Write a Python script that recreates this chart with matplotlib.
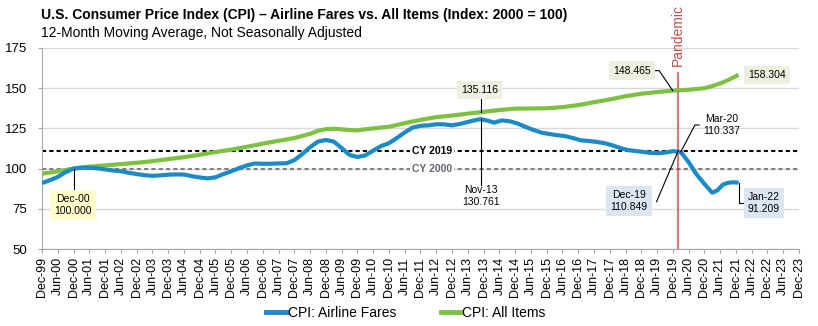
import matplotlib
matplotlib.use("Agg")
import matplotlib.pyplot as plt
from matplotlib.lines import Line2D
import pandas as pd

plt.rcParams['font.family'] = ['Liberation Sans', 'DejaVu Sans']

# CPI: Airline Fares, 12-month moving average (2000 = 100)
fares_dates = [
    "1999-12", "2000-03", "2000-06", "2000-09", "2000-12", "2001-03", "2001-06", "2001-09",
    "2001-12", "2002-03", "2002-06", "2002-09", "2002-12", "2003-03", "2003-06", "2003-09",
    "2003-12", "2004-03", "2004-06", "2004-09", "2004-12", "2005-03", "2005-06", "2005-09",
    "2005-12", "2006-03", "2006-06", "2006-09", "2006-12", "2007-03", "2007-06", "2007-09",
    "2007-12", "2008-03", "2008-06", "2008-09", "2008-12", "2009-03", "2009-06", "2009-09",
    "2009-12", "2010-03", "2010-06", "2010-09", "2010-12", "2011-03", "2011-06", "2011-09",
    "2011-12", "2012-03", "2012-06", "2012-09", "2012-12", "2013-03", "2013-06", "2013-09",
    "2013-11", "2014-02", "2014-04", "2014-07", "2014-10", "2015-01", "2015-04", "2015-07",
    "2015-10", "2016-01", "2016-04", "2016-07", "2016-10", "2017-01", "2017-04", "2017-07",
    "2017-10", "2018-01", "2018-04", "2018-07", "2018-10", "2019-01", "2019-04", "2019-07",
    "2019-10", "2019-12", "2020-03", "2020-06", "2020-09", "2020-12", "2021-03", "2021-05",
    "2021-07", "2021-09", "2021-11", "2022-01",
]
fares = [
    91.0, 92.8, 94.8, 97.8, 100.0, 100.6, 100.6, 100.2,
    99.5, 98.8, 98.4, 97.4, 96.6, 95.9, 95.5, 95.8,
    96.2, 96.4, 96.3, 95.3, 94.5, 93.9, 94.6, 96.6,
    98.3, 100.3, 102.0, 103.2, 103.0, 103.0, 103.2, 103.3,
    105.2, 109.0, 113.3, 116.8, 117.8, 116.8, 112.8, 108.5,
    107.2, 108.2, 111.2, 114.0, 115.8, 119.0, 122.5, 125.5,
    126.6, 126.9, 127.6, 127.5, 126.9, 127.8, 129.0, 130.2,
    130.761, 129.6, 128.6, 130.0, 129.4, 128.0, 125.9, 124.0,
    122.4, 121.5, 120.8, 120.2, 119.0, 117.6, 117.2, 116.6,
    115.8, 114.5, 112.8, 111.5, 110.9, 110.3, 109.7, 109.6,
    110.2, 110.849, 110.337, 104.0, 96.5, 90.5, 85.0, 86.5,
    90.0, 91.2, 91.5, 91.209,
]

# CPI: All Items, 12-month moving average (2000 = 100)
all_items_dates = [
    "1999-12", "2000-06", "2000-12", "2001-06", "2001-12", "2002-06", "2002-12", "2003-06",
    "2003-12", "2004-06", "2004-12", "2005-06", "2005-12", "2006-06", "2006-12", "2007-06",
    "2007-12", "2008-06", "2008-09", "2008-12", "2009-03", "2009-06", "2009-09", "2009-12",
    "2010-06", "2010-12", "2011-06", "2011-12", "2012-06", "2012-12", "2013-06", "2013-11",
    "2014-06", "2014-12", "2015-06", "2015-12", "2016-06", "2016-12", "2017-06", "2017-12",
    "2018-06", "2018-12", "2019-06", "2019-12", "2020-06", "2020-12", "2021-03", "2021-06",
    "2021-09", "2021-12", "2022-01",
]
all_items = [
    96.8, 98.3, 100.0, 101.2, 102.0, 102.8, 103.6, 104.6,
    105.9, 107.1, 108.6, 110.3, 111.8, 113.6, 115.5, 117.3,
    119.0, 121.6, 123.5, 124.5, 124.8, 124.4, 124.0, 123.8,
    125.0, 126.0, 128.3, 130.3, 132.0, 133.0, 134.2, 135.116,
    136.4, 137.3, 137.4, 137.5, 138.2, 139.5, 141.3, 143.0,
    145.0, 146.6, 147.6, 148.465, 149.0, 150.0, 151.3, 153.0,
    155.0, 157.5, 158.304,
]

cy2019 = 110.849
cy2000 = 100.0
pandemic_date = "2020-02"
axis_start, axis_end = "1999-12", "2023-12"

BLUE = "#1B8AC7"
GREEN = "#7DC143"
RED = "#C0504D"


def month_index(s):
    return (pd.Period(s, freq="M") - pd.Period(axis_start, freq="M")).n


fx = [month_index(d) for d in fares_dates]
gx = [month_index(d) for d in all_items_dates]
n_months = month_index(axis_end)

fig = plt.figure(figsize=(8.18, 3.26), dpi=100)
ax = fig.add_axes([42 / 818, 1 - 249 / 326, 757 / 818, 201 / 326])

ax.set_xlim(0, n_months)
ax.set_ylim(50, 175)
ax.set_yticks([50, 75, 100, 125, 150, 175])
ax.yaxis.grid(True, color="#D9D9D9", lw=1)
ax.set_axisbelow(True)

tick_periods = pd.period_range(axis_start, axis_end, freq="M")[::6]
ax.set_xticks([month_index(str(p)) for p in tick_periods])
ax.set_xticklabels([p.strftime("%b-%y") for p in tick_periods], rotation=90, fontsize=9)
ax.tick_params(axis="x", length=3, color="#A6A6A6", pad=3)
ax.tick_params(axis="y", length=3, color="#A6A6A6", labelsize=9.5, pad=8)
for side in ("top", "right"):
    ax.spines[side].set_visible(False)
for side in ("left", "bottom"):
    ax.spines[side].set_color("#A6A6A6")

# reference levels
ax.axhline(cy2019, color="black", lw=1.5, ls=(0, (2, 1.5)), zorder=2)
ax.axhline(cy2000, color="#7F7F7F", lw=1.5, ls=(0, (2, 1.5)), zorder=2)
ax.text(148.4, cy2019, "CY 2019", fontsize=7.5, fontweight="bold", color="black",
        ha="center", va="center", zorder=3,
        bbox=dict(boxstyle="square,pad=0.2", fc="white", ec="none"))
ax.text(148.4, cy2000, "CY 2000", fontsize=7.5, fontweight="bold", color="#5F6670",
        ha="center", va="center", zorder=3,
        bbox=dict(boxstyle="square,pad=0.2", fc="white", ec="none"))

# pandemic marker
px = month_index(pandemic_date)
ax.plot([px, px], [50, 159.5], color=RED, lw=1.5, alpha=0.75, zorder=3)
ax.text(px, 183, "Pandemic", rotation=90, color=RED, fontsize=10,
        ha="center", va="center", clip_on=False)

ax.plot(gx, all_items, color=GREEN, lw=3, solid_capstyle="butt", zorder=4)
ax.plot(fx, fares, color=BLUE, lw=3, solid_capstyle="butt", zorder=5)

YELLOW_BOX = dict(boxstyle="square,pad=0.4", fc="#FFFFCC", ec="none")
GREEN_BOX = dict(boxstyle="square,pad=0.4", fc="#EBF1DE", ec="none")
BLUE_BOX = dict(boxstyle="square,pad=0.4", fc="#DCE6F2", ec="none")
lkw = dict(color="black", lw=0.8, zorder=6)
tkw = dict(fontsize=7.5, ha="center", va="center", linespacing=1.2, zorder=7)


def value_at(dates, values, d):
    return values[dates.index(d)]


# Dec-00 label
v = value_at(fares_dates, fares, "2000-12")
ax.plot([12, 12], [v, 85.5], **lkw)
ax.text(11.8, 77.4, f"Dec-00\n{v:.3f}", bbox=YELLOW_BOX, **tkw)

# Nov-13 labels
m13 = month_index("2013-11")
g = value_at(all_items_dates, all_items, "2013-11")
f = value_at(fares_dates, fares, "2013-11")
ax.plot([m13, m13], [g, 144.5], **lkw)
ax.text(m13 - 0.5, 148.9, f"{g:.3f}", bbox=GREEN_BOX, **tkw)
ax.plot([m13, m13], [f, 89.5], **lkw)
ax.text(m13, 83.0, f"Nov-13\n{f:.3f}", **tkw)

# Dec-19 all-items label
m19 = month_index("2019-12")
g = value_at(all_items_dates, all_items, "2019-12")
ax.plot([233.3, 234.8, m19], [160.9, 160.9, g], **lkw)
ax.text(224.5, 161.0, f"{g:.3f}", bbox=GREEN_BOX, **tkw)

# latest all-items value
m22 = month_index("2022-01")
g = value_at(all_items_dates, all_items, "2022-01")
ax.text(275.9, 158.2, f"{g:.3f}", bbox=GREEN_BOX, **tkw)

# Mar-20 fares label
m20 = month_index("2020-03")
f = value_at(fares_dates, fares, "2020-03")
ax.plot([250.0, 248.4, m20], [127.1, 127.1, f], **lkw)
ax.text(258.4, 127.1, f"Mar-20\n{f:.3f}", **tkw)

# Dec-19 fares label
f = value_at(fares_dates, fares, "2019-12")
ax.plot([233.8, m19 + 2], [79.4, f], **lkw)
ax.text(223.4, 79.9, f"Dec-19\n{f:.3f}", bbox=BLUE_BOX, **tkw)

# Jan-22 fares label
f = value_at(fares_dates, fares, "2022-01")
ax.plot([m22, m22, 268.0], [f, 78.5, 78.5], **lkw)
ax.text(274.7, 78.6, f"Jan-22\n{f:.3f}", bbox=BLUE_BOX, **tkw)

# titles
fig.text(41 / 818, 1 - 15 / 326, "U.S. Consumer Price Index (CPI) \u2013 Airline Fares vs. All Items (Index: 2000 = 100)",
         fontsize=10, fontweight="bold", ha="left", va="center")
fig.text(41 / 818, 1 - 33 / 326, "12-Month Moving Average, Not Seasonally Adjusted",
         fontsize=10, ha="left", va="center")

handles = [Line2D([], [], color=BLUE, lw=3.5), Line2D([], [], color=GREEN, lw=3.5)]
fig.legend(handles, ["CPI: Airline Fares", "CPI: All Items"], loc="center",
           bbox_to_anchor=(406 / 818, 1 - 313 / 326), ncol=2, frameon=False,
           fontsize=10, handlelength=1.45, handletextpad=0.1, columnspacing=3.2,
           borderpad=0, borderaxespad=0)

fig.savefig("out.png", dpi=100)
